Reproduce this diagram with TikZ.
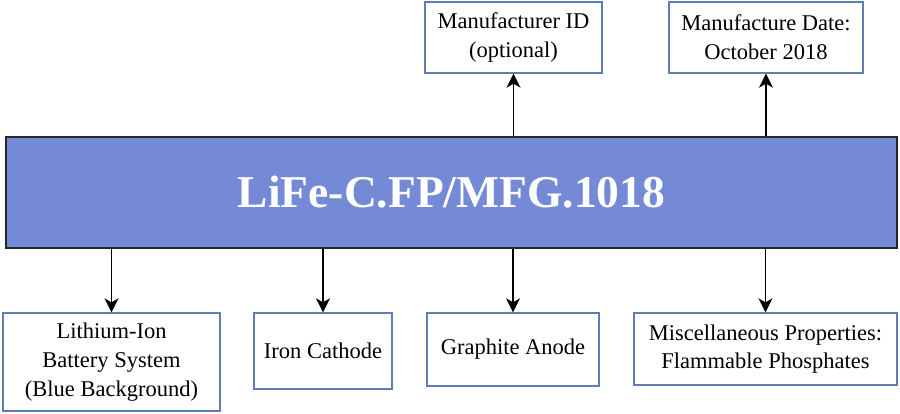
\documentclass[tikz,border=0pt]{standalone}
\usepackage{fontspec}
\setmainfont{Liberation Serif}
\usetikzlibrary{arrows.meta}
\definecolor{mainfill}{HTML}{758AD7}
\definecolor{boxline}{HTML}{5E7DB0}
\begin{document}
\begin{tikzpicture}[x=1pt,y=-1pt,
  infobox/.style={draw=boxline, line width=1.3pt, fill=white, inner sep=0pt, align=center,
    font=\fontsize{22.5}{28.8}\selectfont},
  mainbox/.style={draw=black!85, line width=1.6pt, fill=mainfill, inner sep=0pt,
    text=white, font=\fontsize{45.5}{50}\selectfont\bfseries},
  arr/.style={line width=1.5pt, -{Stealth[length=14pt,width=14pt,inset=4pt]}}]
\useasboundingbox (0,0) rectangle (900,413);
\node[mainbox, minimum width=891pt, minimum height=111pt] (main) at (451.5,192.5) {LiFe-C.FP/MFG.1018};
\node[infobox, minimum width=177pt, minimum height=71pt] (mid) at (513.5,37.5) {Manufacturer ID\\(optional)};
\node[infobox, minimum width=194pt, minimum height=71pt] (date) at (766,37.5) {Manufacture Date:\\October 2018};
\node[infobox, minimum width=217pt, minimum height=98pt] (li) at (111.5,362) {Lithium-Ion\\Battery System\\(Blue Background)};
\node[infobox, minimum width=138pt, minimum height=76pt] (iron) at (323,351) {Iron Cathode};
\node[infobox, minimum width=172pt, minimum height=73pt] (gra) at (513,349.5) {Graphite Anode};
\node[infobox, minimum width=263pt, minimum height=72pt] (misc) at (765.5,349) {Miscellaneous Properties:\\Flammable Phosphates};
\draw[arr] (mid.south |- main.north) -- (mid.south);
\draw[arr] (date.south |- main.north) -- (date.south);
\draw[arr] (li.north |- main.south) -- (li.north);
\draw[arr] (iron.north |- main.south) -- (iron.north);
\draw[arr] (gra.north |- main.south) -- (gra.north);
\draw[arr] (misc.north |- main.south) -- (misc.north);
\end{tikzpicture}
\end{document}
